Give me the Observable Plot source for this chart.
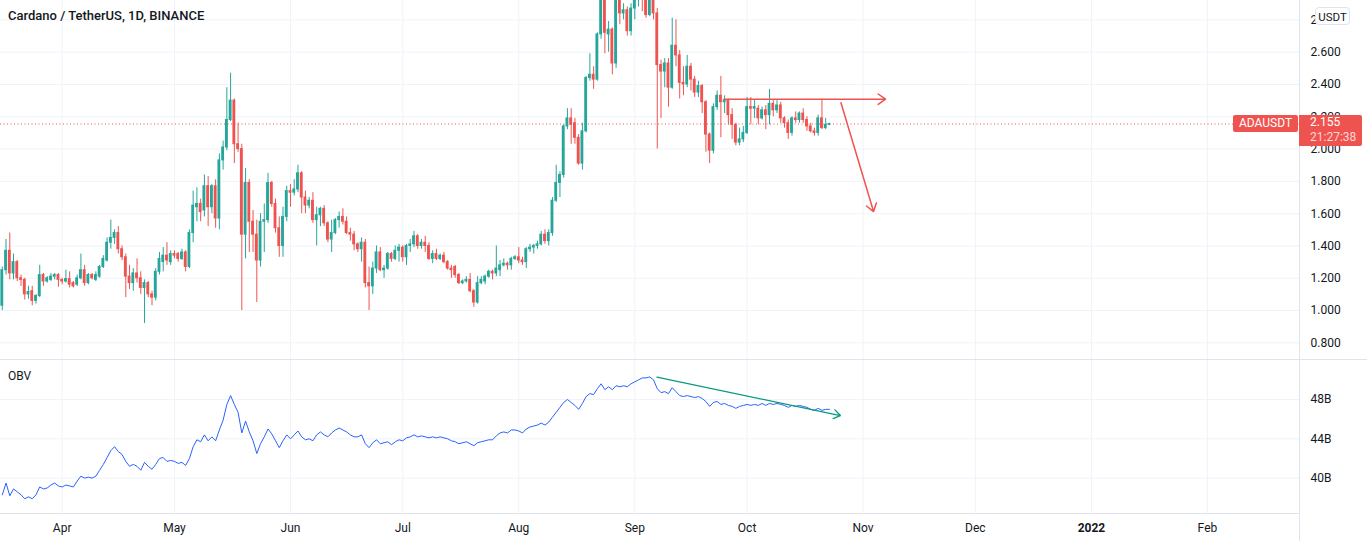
<!DOCTYPE html>
<html><head><meta charset="utf-8">
<script src="https://cdn.jsdelivr.net/npm/d3@7"></script>
<script src="https://cdn.jsdelivr.net/npm/@observablehq/plot@0.6"></script>
<style>
body{margin:0;background:#fff;}
#chart{position:relative;width:1367px;height:541px;overflow:hidden;font-family:Roboto,"Open Sans",sans-serif;color:#131722;background:#fff}
#chart svg{position:absolute;left:0;}
.ov{position:absolute;white-space:nowrap;}
.line{position:absolute;background:#e0e3eb;}
</style></head><body><div id="chart"></div>
<script>
// ---- DATA: daily ADA/USDT candles [open, high, low, close] ----
const march = [ // from 2021-03-16
[1.03,1.27,1.00,1.25],[1.25,1.44,1.22,1.37],[1.37,1.48,1.19,1.23],[1.23,1.35,1.19,1.30],
[1.30,1.31,1.18,1.20],[1.20,1.22,1.15,1.19],[1.19,1.20,1.065,1.10],[1.10,1.15,1.07,1.115],
[1.12,1.15,1.03,1.06],[1.06,1.10,1.04,1.09],[1.09,1.28,1.08,1.22],[1.22,1.23,1.15,1.18],
[1.18,1.21,1.17,1.20],[1.19,1.23,1.18,1.21],[1.21,1.23,1.19,1.22],[1.22,1.23,1.145,1.19]];
const april = [
[1.19,1.20,1.16,1.18],[1.18,1.25,1.17,1.195],[1.195,1.24,1.14,1.16],[1.17,1.18,1.14,1.15],
[1.16,1.22,1.15,1.20],[1.20,1.35,1.19,1.25],[1.25,1.28,1.15,1.17],[1.17,1.23,1.16,1.22],
[1.22,1.23,1.19,1.20],[1.19,1.24,1.18,1.22],[1.21,1.28,1.20,1.27],[1.27,1.34,1.26,1.32],
[1.31,1.45,1.30,1.42],[1.42,1.56,1.38,1.45],[1.45,1.50,1.41,1.48],[1.48,1.52,1.35,1.38],
[1.38,1.40,1.31,1.33],[1.33,1.35,1.08,1.21],[1.21,1.28,1.13,1.17],[1.17,1.26,1.12,1.23],
[1.23,1.32,1.17,1.20],[1.20,1.24,1.10,1.14],[1.14,1.19,0.92,1.17],[1.17,1.18,1.08,1.10],
[1.10,1.12,1.03,1.08],[1.08,1.26,1.06,1.24],[1.24,1.36,1.22,1.32],[1.30,1.39,1.24,1.34],
[1.34,1.42,1.28,1.31],[1.30,1.37,1.28,1.35]];
const may = [
[1.35,1.37,1.32,1.34],[1.35,1.36,1.30,1.32],[1.32,1.38,1.31,1.36],[1.36,1.37,1.24,1.27],
[1.27,1.50,1.26,1.48],[1.48,1.74,1.42,1.65],[1.64,1.76,1.55,1.66],[1.66,1.69,1.55,1.61],
[1.62,1.84,1.58,1.77],[1.77,1.83,1.52,1.64],[1.64,1.78,1.60,1.77],[1.77,1.81,1.51,1.57],
[1.57,1.97,1.50,1.93],[1.93,2.05,1.87,2.01],[2.01,2.38,1.99,2.18],[2.18,2.47,2.17,2.30],
[2.30,2.31,1.91,2.03],[2.03,2.16,1.98,2.00],[2.00,2.03,1.00,1.47],[1.47,1.88,1.32,1.79],
[1.79,1.81,1.36,1.55],[1.55,1.62,1.36,1.47],[1.47,1.56,1.05,1.31],[1.31,1.60,1.27,1.55],
[1.55,1.66,1.36,1.56],[1.56,1.85,1.54,1.79],[1.79,1.80,1.64,1.66],[1.66,1.69,1.48,1.51],
[1.51,1.58,1.33,1.40],[1.40,1.64,1.33,1.58],[1.58,1.77,1.55,1.74]];
const june = [
[1.74,1.78,1.64,1.73],[1.73,1.81,1.71,1.75],[1.75,1.90,1.73,1.85],[1.85,1.86,1.60,1.70],
[1.70,1.74,1.60,1.65],[1.65,1.70,1.63,1.68],[1.68,1.73,1.54,1.56],[1.56,1.64,1.40,1.59],
[1.59,1.64,1.52,1.63],[1.63,1.65,1.52,1.54],[1.54,1.55,1.42,1.44],[1.44,1.56,1.36,1.48],
[1.48,1.57,1.47,1.56],[1.56,1.61,1.51,1.58],[1.58,1.63,1.53,1.55],[1.55,1.58,1.47,1.48],
[1.48,1.51,1.43,1.47],[1.47,1.49,1.37,1.41],[1.41,1.42,1.36,1.38],[1.38,1.45,1.30,1.42],
[1.42,1.44,1.14,1.17],[1.17,1.27,1.00,1.15],[1.15,1.30,1.10,1.26],[1.26,1.40,1.23,1.36],
[1.36,1.39,1.24,1.25],[1.25,1.28,1.20,1.26],[1.26,1.36,1.25,1.35],[1.35,1.36,1.30,1.32],
[1.32,1.40,1.31,1.37],[1.37,1.41,1.30,1.39]];
const july = [
[1.39,1.40,1.30,1.33],[1.33,1.41,1.28,1.40],[1.40,1.44,1.36,1.41],[1.41,1.49,1.39,1.46],
[1.46,1.47,1.38,1.40],[1.40,1.44,1.38,1.42],[1.42,1.46,1.36,1.40],[1.40,1.42,1.31,1.32],
[1.32,1.37,1.29,1.35],[1.35,1.38,1.31,1.32],[1.32,1.35,1.31,1.34],[1.34,1.36,1.29,1.30],
[1.30,1.31,1.25,1.26],[1.26,1.28,1.20,1.25],[1.27,1.28,1.20,1.22],[1.22,1.23,1.16,1.17],
[1.17,1.19,1.16,1.18],[1.18,1.21,1.17,1.19],[1.19,1.23,1.11,1.12],[1.12,1.13,1.02,1.05],
[1.05,1.21,1.04,1.17],[1.17,1.21,1.16,1.19],[1.18,1.22,1.16,1.21],[1.21,1.25,1.20,1.24],
[1.24,1.25,1.19,1.23],[1.23,1.40,1.21,1.26],[1.25,1.31,1.21,1.28],[1.28,1.32,1.27,1.29],
[1.29,1.30,1.25,1.28],[1.28,1.33,1.25,1.32],[1.32,1.34,1.31,1.33]];
const august = [
[1.33,1.39,1.29,1.31],[1.31,1.33,1.28,1.30],[1.30,1.39,1.26,1.38],[1.38,1.41,1.36,1.39],
[1.39,1.41,1.35,1.40],[1.40,1.43,1.38,1.41],[1.41,1.49,1.40,1.47],[1.47,1.50,1.41,1.43],
[1.43,1.50,1.40,1.48],[1.48,1.70,1.46,1.68],[1.68,1.90,1.67,1.79],[1.79,1.86,1.70,1.84],
[1.84,2.15,1.82,2.14],[2.14,2.25,2.12,2.19],[2.19,2.25,2.03,2.15],[2.16,2.19,2.03,2.07],
[2.07,2.09,1.90,1.91],[1.91,2.16,1.87,2.11],[2.11,2.45,2.10,2.44],[2.44,2.59,2.42,2.46],
[2.46,2.51,2.37,2.43],[2.43,2.72,2.42,2.71],[2.71,2.97,2.68,2.93],[2.93,2.95,2.59,2.72],
[2.71,2.79,2.60,2.74],[2.74,2.75,2.46,2.53],[2.53,2.94,2.50,2.93],[2.93,2.98,2.77,2.84],
[2.84,2.90,2.80,2.86],[2.86,2.88,2.70,2.73],[2.73,2.90,2.70,2.87]];
const september = [
[2.87,2.98,2.80,2.95],[2.95,3.10,2.88,2.97],[2.97,3.00,2.85,2.93],[2.93,2.95,2.81,2.83],
[2.83,2.97,2.82,2.93],[2.93,2.95,2.80,2.84],[2.84,2.87,2.00,2.52],[2.52,2.55,2.19,2.48],
[2.48,2.56,2.38,2.53],[2.53,2.56,2.26,2.38],[2.38,2.81,2.37,2.64],[2.64,2.80,2.51,2.58],
[2.58,2.61,2.31,2.41],[2.41,2.51,2.33,2.40],[2.40,2.58,2.38,2.51],[2.51,2.53,2.36,2.43],
[2.43,2.45,2.32,2.35],[2.35,2.42,2.32,2.39],[2.39,2.40,2.22,2.29],[2.29,2.30,1.98,2.09],
[2.09,2.10,1.91,1.99],[1.99,2.28,1.97,2.26],[2.26,2.36,2.24,2.33],[2.33,2.45,2.07,2.29],
[2.29,2.33,2.22,2.30],[2.30,2.31,2.15,2.21],[2.21,2.25,2.06,2.15],[2.15,2.16,2.02,2.04],
[2.04,2.13,2.02,2.06],[2.06,2.14,2.04,2.10]];
const october = [
[2.10,2.32,2.09,2.26],[2.26,2.32,2.15,2.25],[2.25,2.30,2.19,2.26],[2.25,2.27,2.15,2.19],
[2.19,2.26,2.18,2.24],[2.24,2.27,2.12,2.21],[2.21,2.37,2.15,2.28],[2.28,2.30,2.20,2.24],
[2.24,2.30,2.22,2.27],[2.27,2.29,2.16,2.19],[2.19,2.20,2.13,2.16],[2.16,2.18,2.06,2.10],
[2.10,2.20,2.08,2.19],[2.19,2.23,2.16,2.18],[2.18,2.23,2.16,2.22],[2.22,2.25,2.16,2.18],
[2.18,2.20,2.11,2.14],[2.14,2.16,2.10,2.11],[2.11,2.13,2.08,2.10],[2.10,2.21,2.08,2.19],
[2.19,2.30,2.12,2.13],[2.13,2.19,2.12,2.15],[2.15,2.16,2.145,2.155]];

// On-balance volume, billions, same days
const obvMar = [38.3,39.5,38.2,38.9,38.6,38.3,37.9,38.1,37.9,38.3,39.1,38.9,39.0,39.3,39.5,39.2];
const obvApr = [39.1,39.3,39.2,39.1,39.7,40.2,40.0,40.1,40.0,40.2,40.8,41.4,42.1,42.8,43.2,42.7,42.4,41.7,41.2,41.4,41.2,40.8,41.6,41.2,40.9,41.4,42.0,42.1,41.7,41.8];
const obvMay = [41.7,41.5,41.6,41.3,42.0,43.2,43.9,43.7,44.4,43.8,44.2,43.8,44.9,45.9,47.5,48.4,47.5,46.7,44.6,45.8,44.7,43.8,42.5,43.5,44.2,45.0,44.5,43.8,43.1,43.8,44.4];
const obvJun = [44.0,44.4,44.8,44.2,43.9,44.0,43.8,44.4,44.7,44.4,44.2,44.6,44.9,45.1,44.9,44.7,44.4,44.2,44.2,44.4,43.5,43.1,43.6,43.9,43.5,43.6,43.7,43.4,43.7,43.9];
const obvJul = [43.8,44.1,44.2,44.4,44.2,44.3,44.2,44.1,44.2,44.1,44.2,44.1,44.0,43.8,43.7,43.5,43.6,43.7,43.5,43.3,43.6,43.7,43.8,43.9,43.9,44.3,44.6,44.7,44.6,44.9,44.9];
const obvAug = [44.8,44.6,45.0,45.2,45.3,45.4,45.6,45.4,45.7,46.2,46.7,47.2,47.7,48.0,47.7,47.4,47.0,47.6,48.3,48.6,48.5,49.1,49.6,49.0,49.3,49.0,49.4,49.3,49.4,49.3,49.6];
const obvSep = [49.8,50.0,50.2,50.2,50.3,50.0,49.1,48.7,48.8,48.6,49.2,48.8,48.4,48.3,48.4,48.3,48.2,48.3,48.1,47.8,47.3,47.7,47.8,47.5,47.6,47.4,47.3,47.1,47.3,47.4];
const obvOct = [47.5,47.4,47.5,47.4,47.6,47.4,47.6,47.5,47.6,47.5,47.4,47.2,47.4,47.3,47.4,47.3,47.2,47.0,46.9,47.1,46.9,47.0,47.0];

const monthStarts = ["2021-03-16","2021-04-01","2021-05-01","2021-06-01","2021-07-01","2021-08-01","2021-09-01","2021-10-01"];

// Axis ticks
const priceTicks = [0.8,1.0,1.2,1.4,1.6,1.8,2.0,2.2,2.4,2.6,2.8];
const obvTicks = [40,44,48];
const monthTickDates = ["2021-04-01","2021-05-01","2021-06-01","2021-07-01","2021-08-01","2021-09-01","2021-10-01","2021-11-01","2021-12-01","2022-01-01","2022-02-01"];
const monthTickLabels = ["Apr","May","Jun","Jul","Aug","Sep","Oct","Nov","Dec","2022","Feb"];

// Drawn annotations (trend lines with arrows)
const priceArrows = [
  {x1:"2021-09-24T19:00Z", y1:2.309, x2:"2021-11-07T00:00Z", y2:2.309},
  {x1:"2021-10-26T02:00Z", y1:2.287, x2:"2021-11-03T19:00Z", y2:1.613}
];
const obvArrows = [
  {x1:"2021-09-06T22:00Z", y1:50.27, x2:"2021-10-25T22:00Z", y2:46.37}
];
const symbol = "ADAUSDT", currency = "USDT", countdown = "21:27:38";
const titleText = "Cardano / TetherUS, 1D, BINANCE";

// ---- BUILD ----
const DAY = 864e5;
const UP = "#26a69a", DOWN = "#ef5350";
const candleMonths = [march, april, may, june, july, august, september, october];
const obvMonths = [obvMar, obvApr, obvMay, obvJun, obvJul, obvAug, obvSep, obvOct];
const candles = candleMonths.flatMap((rows, m) => rows.map((r, i) => ({
  date: d3.utcDay.offset(new Date(monthStarts[m]), i), open:r[0], high:r[1], low:r[2], close:r[3]})));
const obv = obvMonths.flatMap((vals, m) => vals.map((v, i) => ({date: d3.utcDay.offset(new Date(monthStarts[m]), i), v})));
const upC = candles.filter(d => d.close >= d.open);
const downC = candles.filter(d => d.close < d.open);
const lastClose = candles[candles.length-1].close;
const toDates = a => a.map(d => ({x1:new Date(d.x1), y1:d.y1, x2:new Date(d.x2), y2:d.y2}));
const tickDates = monthTickDates.map(s => new Date(s));
const labelOf = new Map(tickDates.map((d,i) => [+d, monthTickLabels[i]]));
const normalTicks = tickDates.filter(d => d.getUTCMonth() !== 0);
const yearTicks = tickDates.filter(d => d.getUTCMonth() === 0);

const W = 1367, RIGHT = 68;
const apr1 = Date.UTC(2021,3,1);
const xDomain = [new Date(apr1 - 16.48*DAY), new Date(apr1 + 330.6*DAY)];
const grid = {stroke:"#f0f3fa", strokeOpacity:1};
const style = {fontFamily:"Roboto, 'Open Sans', sans-serif", fontSize:"12px", color:"#131722", background:"transparent", overflow:"visible"};

const bodyX1 = d => new Date(+d.date - 0.38*DAY), bodyX2 = d => new Date(+d.date + 0.38*DAY);

const pricePlot = Plot.plot({
  width: W, height: 359, marginTop: 0, marginBottom: 0, marginLeft: 0, marginRight: RIGHT,
  style,
  x: {type:"utc", domain: xDomain, axis: null},
  y: {domain: [0.697, 2.920]},
  marks: [
    Plot.gridX(tickDates, grid),
    Plot.gridY(priceTicks, grid),
    Plot.axisY(priceTicks, {anchor:"right", tickSize:0, tickPadding:11, tickFormat: d3.format(".3f"), label:null}),
    Plot.ruleY([lastClose], {stroke: DOWN, strokeDasharray:"1,2.5"}),
    Plot.ruleX(upC, {x:"date", y1:"low", y2:"high", stroke: UP, clip:true}),
    Plot.ruleX(downC, {x:"date", y1:"low", y2:"high", stroke: DOWN, clip:true}),
    Plot.rect(upC, {x1: bodyX1, x2: bodyX2, y1:"open", y2:"close", fill: UP, insetTop:-0.5, insetBottom:-0.5, clip:true}),
    Plot.rect(downC, {x1: bodyX1, x2: bodyX2, y1:"open", y2:"close", fill: DOWN, insetTop:-0.5, insetBottom:-0.5, clip:true}),
    Plot.arrow(toDates(priceArrows), {x1:"x1", y1:"y1", x2:"x2", y2:"y2", stroke:"#ef5350", strokeWidth:1.5, headLength:9, headAngle:70})
  ]
});

const obvPlot = Plot.plot({
  width: W, height: 181, marginTop: 0, marginBottom: 28, marginLeft: 0, marginRight: RIGHT,
  style,
  x: {type:"utc", domain: xDomain},
  y: {domain: [36.40, 51.97]},
  marks: [
    Plot.gridX(tickDates, grid),
    Plot.gridY(obvTicks, grid),
    Plot.axisY(obvTicks, {anchor:"right", tickSize:0, tickPadding:11, tickFormat: d => d + "B", label:null}),
    Plot.axisX(normalTicks, {anchor:"bottom", tickSize:0, tickPadding:10, tickFormat: d => labelOf.get(+d), label:null}),
    Plot.axisX(yearTicks, {anchor:"bottom", tickSize:0, tickPadding:10, tickFormat: d => labelOf.get(+d), label:null, fontWeight:"bold"}),
    Plot.line(obv, {x:"date", y:"v", stroke:"#2962ff", strokeWidth:1}),
    Plot.arrow(toDates(obvArrows), {x1:"x1", y1:"y1", x2:"x2", y2:"y2", stroke:"#089981", strokeWidth:1.3, headLength:9, headAngle:70})
  ]
});

const chart = document.getElementById("chart");
pricePlot.style.top = "0px";
obvPlot.style.top = "360px";
chart.append(pricePlot, obvPlot);

function add(html, css, cls="ov"){ const el=document.createElement("div"); el.className=cls; el.innerHTML=html; Object.assign(el.style, css); chart.append(el); return el; }
// pane borders
add("", {left:"0px", top:"359px", width:"1367px", height:"1px"}, "line");
add("", {left:"0px", top:"513px", width:"1299px", height:"1px"}, "line");
add("", {left:"1299px", top:"0px", width:"1px", height:"541px"}, "line");
// title + indicator name
add(titleText, {left:"8px", top:"7px", fontSize:"13px", fontWeight:"500", lineHeight:"18px"});
add("OBV", {left:"8px", top:"368px", fontSize:"12px", lineHeight:"16px"});
// currency box
add(currency, {left:"1315px", top:"7px", width:"35px", height:"18px", lineHeight:"18px", textAlign:"center", fontSize:"11.5px", background:"#fff", border:"1px solid #e0e3eb", borderRadius:"4px", boxSizing:"border-box"});
// last price labels
const yLast = pricePlot.scale("y").apply(lastClose);
add(symbol, {left:"1233px", top:(yLast-8.5)+"px", width:"65px", height:"17px", lineHeight:"17px", textAlign:"center", fontSize:"12px", color:"#fff", background:DOWN, borderRadius:"2px"});
add(`<div>${d3.format(".3f")(lastClose)}</div><div style="color:rgba(255,255,255,0.78)">${countdown}</div>`,
  {left:"1299px", top:(yLast-8.5)+"px", width:"63px", height:"31px", boxSizing:"border-box", paddingLeft:"11px", paddingTop:"0px", lineHeight:"15px", fontSize:"12px", color:"#fff", background:DOWN, borderRadius:"0 2px 2px 0"});
</script></body></html>
